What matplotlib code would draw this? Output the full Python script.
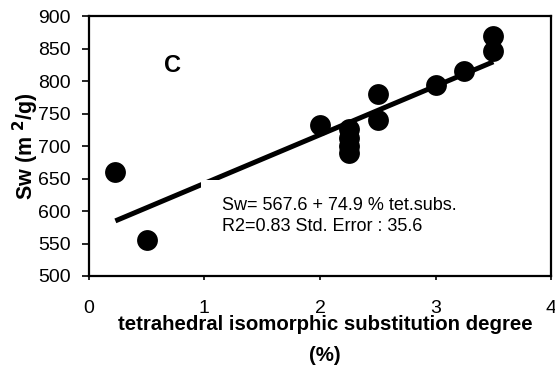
import numpy as np
import matplotlib.pyplot as plt
from matplotlib.patches import Rectangle

plt.rcParams['font.family'] = ['Liberation Sans', 'DejaVu Sans']

# data
tet_subs = [0.23, 0.5, 2.0, 2.25, 2.25, 2.25, 2.25, 2.5, 2.5, 3.0, 3.25, 3.5, 3.5]
sw = [660, 555, 733, 727, 712, 700, 690, 780, 740, 794, 816, 869, 846]
fit_a, fit_b = 567.6, 74.9
x_ticks = [0, 1, 2, 3, 4]
y_ticks = [500, 550, 600, 650, 700, 750, 800, 850, 900]

fig = plt.figure(figsize=(5.55, 3.67), dpi=100)
ax = fig.add_axes([0.160, 0.248, 0.833, 0.708])

xf = np.array([min(tet_subs), max(tet_subs)])
ax.plot(xf, fit_a + fit_b * xf, color='black', lw=3.6, solid_capstyle='butt', zorder=2)

# white text box of the equation hides part of the line
ax.add_patch(Rectangle((0.243, 0.02), 0.55, 0.35, transform=ax.transAxes,
                       facecolor='white', edgecolor='none', zorder=3))
ax.scatter(tet_subs, sw, s=225, color='black', zorder=4, linewidths=0)

ax.text(0.288, 0.231, 'Sw= 567.6 + 74.9 % tet.subs.\nR2=0.83 Std. Error : 35.6',
        transform=ax.transAxes, fontsize=13, va='center', ha='left',
        linespacing=1.3, zorder=5)
ax.text(0.182, 0.81, 'C', transform=ax.transAxes, fontsize=17,
        fontweight='bold', ha='center', va='center')

ax.set_xlim(0, 4)
ax.set_ylim(500, 900)
ax.set_xticks(x_ticks)
ax.set_yticks(y_ticks)
ax.tick_params(axis='both', labelsize=14, direction='out', width=1.2)
ax.tick_params(axis='x', length=3, pad=14)
ax.tick_params(axis='y', length=5, pad=8)
for s in ax.spines.values():
    s.set_linewidth(1.6)
    s.set_zorder(6)

ax.set_xlabel('tetrahedral isomorphic substitution degree\n(%)', fontsize=14.7,
              fontweight='bold', linespacing=1.75)
ax.xaxis.set_label_coords(0.511, -0.152)
ax.xaxis.label.set_va('top')
ax.set_ylabel('Sw (m $^{\\mathbf{2}}$/g)', fontsize=15.5, fontweight='bold')
ax.yaxis.set_label_coords(-0.104, 0.5)

fig.savefig('out.png', dpi=100)
